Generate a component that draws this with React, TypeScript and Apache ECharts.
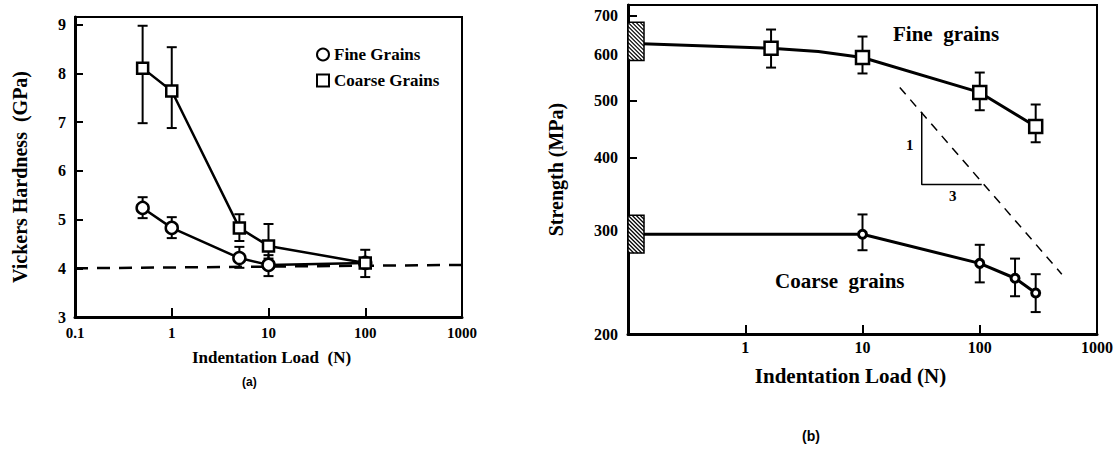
import React, { useEffect, useRef } from 'react';
import * as echarts from 'echarts';

// ---------- Panel (a): Vickers hardness ----------
const loadA = [0.5, 1, 5, 10, 100];
const fineA = [5.24, 4.83, 4.21, 4.07, 4.11];
const fineALow = [5.03, 4.62, 4.01, 3.84, 3.82];
const fineAHigh = [5.46, 5.05, 4.44, 4.27, 4.38];
const coarseA = [8.11, 7.64, 4.83, 4.46, 4.11];
const coarseALow = [6.98, 6.88, 4.56, 4.2, 4.11];
const coarseAHigh = [8.98, 8.54, 5.11, 4.91, 4.11];
const dashedALoad = [0.1, 1000];
const dashedAValue = [4.0, 4.07];
const yTicksA = [3, 4, 5, 6, 7, 8, 9];

// ---------- Panel (b): Strength ----------
const fineBLoad = [0.1, 1.66, 4.2, 10, 100, 300];
const fineBValue = [627, 615, 607, 593, 517, 452];
const fineBMarker = [false, true, false, true, true, true];
const fineBLow = [null, 570, null, 557, 482, 425];
const fineBHigh = [null, 662, null, 644, 559, 493];

const coarseBLoad = [0.1, 10, 100, 200, 300];
const coarseBValue = [296, 296, 264, 249, 235];
const coarseBMarker = [false, true, true, true, true];
const coarseBLow = [null, 278, 245, 232, 218];
const coarseBHigh = [null, 320, 284, 269, 253];

const refBoxFine = [586, 681];
const refBoxCoarse = [275, 319];

const slopeLineLoad = [20.8, 501];
const slopeLineValue = [527, 253];
const triLoad = [32, 32, 104];
const triValue = [478, 360, 360];

const yTicksB = [200, 300, 400, 500, 600, 700];
const yMinB = 200;
const yMaxB = 729;

const L = (v: number) => Math.log10(v);
const SERIF = 'Liberation Serif';

function errorBarRender(params: any, api: any) {
  const x = api.value(0);
  const lo = api.value(1);
  const hi = api.value(2);
  const p1 = api.coord([x, hi]);
  const p2 = api.coord([x, lo]);
  const hw = 5;
  const st = { stroke: '#000', lineWidth: 2 };
  return {
    type: 'group',
    children: [
      { type: 'line', shape: { x1: p1[0], y1: p1[1], x2: p2[0], y2: p2[1] }, style: st },
      { type: 'line', shape: { x1: p1[0] - hw, y1: p1[1], x2: p1[0] + hw, y2: p1[1] }, style: st },
      { type: 'line', shape: { x1: p2[0] - hw, y1: p2[1], x2: p2[0] + hw, y2: p2[1] }, style: st },
    ],
  };
}

function hatchRender(params: any, api: any) {
  const x = api.value(0);
  const lo = api.value(1);
  const hi = api.value(2);
  const pT = api.coord([x, hi]);
  const pB = api.coord([x, lo]);
  const w = 16;
  const x0 = pT[0], x1 = pT[0] + w, y0 = pT[1], y1 = pB[1];
  const children: any[] = [
    { type: 'rect', shape: { x: x0, y: y0, width: w, height: y1 - y0 }, style: { fill: '#fff', stroke: '#000', lineWidth: 1.5 } },
  ];
  for (let c = y0 - x1; c <= y1 - x0; c += 4) {
    const sx = Math.max(x0, y0 - c);
    const ex = Math.min(x1, y1 - c);
    if (ex > sx) {
      children.push({ type: 'line', shape: { x1: sx, y1: sx + c, x2: ex, y2: ex + c }, style: { stroke: '#000', lineWidth: 1.2 } });
    }
  }
  return { type: 'group', children };
}

export default function App() {
  const ref = useRef<HTMLDivElement>(null);
  useEffect(() => {
    if (!ref.current) return;
    const chart = echarts.init(ref.current, null, { renderer: 'svg' });

    const fineAData = loadA.map((x, i) => [x, fineA[i]]);
    const coarseAData = loadA.map((x, i) => [x, coarseA[i]]);
    const fineAErr = loadA.map((x, i) => [x, fineALow[i], fineAHigh[i]]);
    const coarseAErr = loadA
      .map((x, i) => [x, coarseALow[i], coarseAHigh[i]])
      .filter((d) => d[1] !== d[2]);

    const fineBData = fineBLoad.map((x, i) => ({
      value: [x, L(fineBValue[i])],
      symbol: fineBMarker[i] ? 'rect' : 'none',
    }));
    const coarseBData = coarseBLoad.map((x, i) => ({
      value: [x, L(coarseBValue[i])],
      symbol: coarseBMarker[i] ? 'circle' : 'none',
    }));
    const fineBErr = fineBLoad
      .map((x, i) => (fineBLow[i] == null ? null : [x, L(fineBLow[i] as number), L(fineBHigh[i] as number)]))
      .filter((d) => d);
    const coarseBErr = coarseBLoad
      .map((x, i) => (coarseBLow[i] == null ? null : [x, L(coarseBLow[i] as number), L(coarseBHigh[i] as number)]))
      .filter((d) => d);

    const axisLabelA = { fontFamily: SERIF, fontWeight: 'bold', fontSize: 15, color: '#000' };

    chart.setOption({
      animation: false,
      backgroundColor: '#fff',
      textStyle: { fontFamily: SERIF, fontWeight: 'bold', color: '#000' },
      legend: {
        orient: 'vertical',
        left: 311,
        top: 41,
        itemGap: 9,
        itemWidth: 12,
        itemHeight: 12,
        textStyle: { fontFamily: SERIF, fontWeight: 'bold', fontSize: 17, color: '#000' },
        data: [
          { name: 'Fine Grains', icon: 'circle' },
          { name: 'Coarse Grains', icon: 'rect' },
        ],
      },
      grid: [
        { left: 75, top: 17, width: 387, height: 300, show: true, borderColor: '#000', borderWidth: 2, containLabel: false },
        { left: 628, top: 5, width: 469, height: 329, show: true, borderColor: '#000', borderWidth: 2, containLabel: false },
      ],
      xAxis: [
        {
          gridIndex: 0,
          type: 'log',
          logBase: 10,
          min: 0.1,
          max: 1000,
          name: 'Indentation Load  (N)',
          nameLocation: 'middle',
          nameGap: 32,
          nameTextStyle: { fontFamily: SERIF, fontWeight: 'bold', fontSize: 17, color: '#000', padding: [0, 0, 0, 6] },
          axisLine: { lineStyle: { color: '#000', width: 3 } },
          axisTick: { inside: true, length: 9, lineStyle: { color: '#000', width: 2 } },
          axisLabel: { ...axisLabelA, margin: 8, formatter: (v: number) => (v < 0.5 ? '0.1' : String(Math.round(v))) },
          splitLine: { show: false },
        },
        {
          gridIndex: 1,
          type: 'log',
          logBase: 10,
          min: 0.1,
          max: 1000,
          name: 'Indentation Load (N)',
          nameLocation: 'middle',
          nameGap: 31,
          nameTextStyle: { fontFamily: SERIF, fontWeight: 'bold', fontSize: 21, color: '#000', padding: [0, 24, 0, 0] },
          axisLine: { lineStyle: { color: '#000', width: 3 } },
          axisTick: { inside: true, length: 9, lineStyle: { color: '#000', width: 2 } },
          axisLabel: { ...axisLabelA, fontSize: 16, margin: 5, formatter: (v: number) => (v < 0.5 ? '' : String(Math.round(v))) },
          splitLine: { show: false },
        },
      ],
      yAxis: [
        {
          gridIndex: 0,
          type: 'value',
          min: 3,
          max: 9.16,
          interval: 1,
          name: 'Vickers Hardness  (GPa)',
          nameLocation: 'middle',
          nameGap: 45,
          nameTextStyle: { fontFamily: SERIF, fontWeight: 'bold', fontSize: 20, color: '#000', padding: [0, 20, 0, 0] },
          axisLine: { lineStyle: { color: '#000', width: 3 } },
          axisTick: { inside: true, length: 8, lineStyle: { color: '#000', width: 2 } },
          axisLabel: {
            ...axisLabelA,
            fontSize: 16,
            margin: 9,
            formatter: (v: number) => (yTicksA.indexOf(Math.round(v * 100) / 100) >= 0 ? String(v) : ''),
          },
          splitLine: { show: false },
        },
        {
          gridIndex: 1,
          type: 'value',
          min: L(yMinB),
          max: L(yMaxB),
          name: 'Strength (MPa)',
          nameLocation: 'middle',
          nameGap: 62,
          nameTextStyle: { fontFamily: SERIF, fontWeight: 'bold', fontSize: 20, color: '#000' },
          axisLine: { lineStyle: { color: '#000', width: 3 } },
          axisTick: { inside: true, length: 9, customValues: yTicksB.map(L), lineStyle: { color: '#000', width: 2 } },
          axisLabel: {
            ...axisLabelA,
            fontSize: 16,
            margin: 10,
            customValues: yTicksB.map(L),
            formatter: (v: number) => String(Math.round(Math.pow(10, v) / 10) * 10),
          },
          splitLine: { show: false },
        },
      ],
      series: [
        // ---- panel (a)
        {
          name: 'dashedA',
          type: 'line',
          xAxisIndex: 0,
          yAxisIndex: 0,
          data: dashedALoad.map((x, i) => [x, dashedAValue[i]]),
          symbol: 'none',
          lineStyle: { color: '#000', width: 2.5, type: [13, 9] },
          z: 1,
        },
        {
          name: 'Fine Grains errors',
          type: 'custom',
          xAxisIndex: 0,
          yAxisIndex: 0,
          renderItem: errorBarRender,
          encode: { x: 0, y: [1, 2] },
          data: fineAErr,
          z: 2,
        },
        {
          name: 'Coarse Grains errors',
          type: 'custom',
          xAxisIndex: 0,
          yAxisIndex: 0,
          renderItem: errorBarRender,
          encode: { x: 0, y: [1, 2] },
          data: coarseAErr,
          z: 2,
        },
        {
          name: 'Fine Grains',
          type: 'line',
          xAxisIndex: 0,
          yAxisIndex: 0,
          data: fineAData,
          symbol: 'circle',
          symbolSize: 12,
          lineStyle: { color: '#000', width: 2.5 },
          itemStyle: { color: '#fff', borderColor: '#000', borderWidth: 2.5 },
          z: 3,
        },
        {
          name: 'Coarse Grains',
          type: 'line',
          xAxisIndex: 0,
          yAxisIndex: 0,
          data: coarseAData,
          symbol: 'rect',
          symbolSize: 11,
          lineStyle: { color: '#000', width: 2.5 },
          itemStyle: { color: '#fff', borderColor: '#000', borderWidth: 2.5 },
          z: 3,
        },
        // ---- panel (b)
        {
          name: 'slope guide',
          type: 'line',
          xAxisIndex: 1,
          yAxisIndex: 1,
          data: slopeLineLoad.map((x, i) => [x, L(slopeLineValue[i])]),
          symbol: 'none',
          lineStyle: { color: '#000', width: 1.5, type: [9, 7] },
          z: 1,
        },
        {
          name: 'slope triangle',
          type: 'line',
          xAxisIndex: 1,
          yAxisIndex: 1,
          data: triLoad.map((x, i) => [x, L(triValue[i])]),
          symbol: 'none',
          lineStyle: { color: '#000', width: 1.5 },
          z: 1,
        },
        {
          name: 'fine grains errors',
          type: 'custom',
          xAxisIndex: 1,
          yAxisIndex: 1,
          renderItem: errorBarRender,
          encode: { x: 0, y: [1, 2] },
          data: fineBErr,
          z: 2,
        },
        {
          name: 'coarse grains errors',
          type: 'custom',
          xAxisIndex: 1,
          yAxisIndex: 1,
          renderItem: errorBarRender,
          encode: { x: 0, y: [1, 2] },
          data: coarseBErr,
          z: 2,
        },
        {
          name: 'fine grains',
          type: 'line',
          xAxisIndex: 1,
          yAxisIndex: 1,
          data: fineBData,
          symbolSize: 13,
          lineStyle: { color: '#000', width: 3 },
          itemStyle: { color: '#fff', borderColor: '#000', borderWidth: 2.5 },
          z: 3,
        },
        {
          name: 'coarse grains',
          type: 'line',
          xAxisIndex: 1,
          yAxisIndex: 1,
          data: coarseBData,
          symbolSize: 8,
          lineStyle: { color: '#000', width: 3 },
          itemStyle: { color: '#fff', borderColor: '#000', borderWidth: 3 },
          z: 3,
        },
        {
          name: 'reference boxes',
          type: 'custom',
          xAxisIndex: 1,
          yAxisIndex: 1,
          renderItem: hatchRender,
          encode: { x: 0, y: [1, 2] },
          data: [
            [0.1, L(refBoxFine[0]), L(refBoxFine[1])],
            [0.1, L(refBoxCoarse[0]), L(refBoxCoarse[1])],
          ],
          z: 5,
        },
      ],
      graphic: [
        { type: 'text', left: 893, top: 23, style: { text: 'Fine  grains', fontFamily: SERIF, fontWeight: 'bold', fontSize: 21, fill: '#000' } },
        { type: 'text', left: 775, top: 270, style: { text: 'Coarse  grains', fontFamily: SERIF, fontWeight: 'bold', fontSize: 21, fill: '#000' } },
        { type: 'text', left: 906, top: 137, style: { text: '1', fontFamily: SERIF, fontWeight: 'bold', fontSize: 15, fill: '#000' } },
        { type: 'text', left: 949, top: 188, style: { text: '3', fontFamily: SERIF, fontWeight: 'bold', fontSize: 15, fill: '#000' } },
        { type: 'text', left: 242, top: 376, style: { text: '(a)', fontFamily: 'Liberation Sans', fontWeight: 'bold', fontSize: 12, fill: '#000' } },
        { type: 'text', left: 802, top: 429, style: { text: '(b)', fontFamily: 'Liberation Sans', fontWeight: 'bold', fontSize: 14, fill: '#000' } },
      ],
    });
    return () => chart.dispose();
  }, []);
  return <div ref={ref} style={{ position: 'absolute', left: 0, top: 0, width: 1118, height: 449 }} />;
}
